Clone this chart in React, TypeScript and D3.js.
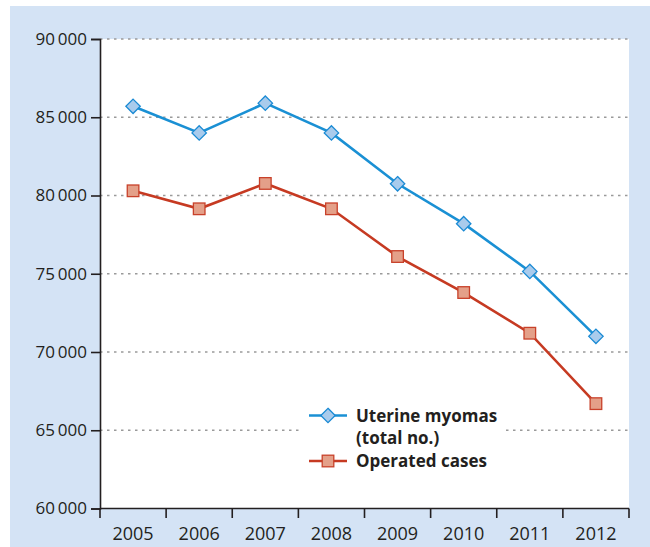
import { useRef, useEffect } from 'react'
import * as d3 from 'd3'

const years = ['2005', '2006', '2007', '2008', '2009', '2010', '2011', '2012']
const myomas = [85700, 84000, 85900, 84000, 80750, 78200, 75150, 71000]
const operated = [80300, 79150, 80770, 79150, 76100, 73800, 71200, 66700]
const yTicks = [60000, 65000, 70000, 75000, 80000, 85000, 90000]

function App() {
  const ref = useRef<SVGSVGElement>(null)

  useEffect(() => {
    const svg = d3.select(ref.current)
    svg.selectAll('*').remove()
    const left = 100, right = 629, top = 39, bottom = 508.5
    const font = '"Open Sans", "DejaVu Sans", sans-serif'
    const ink = '#231f20'

    // light blue panel + white plot area
    svg.append('rect').attr('x', 10).attr('y', 6).attr('width', 640).attr('height', 541).attr('fill', '#d4e3f5')
    svg.append('rect').attr('x', left).attr('y', top).attr('width', right - left).attr('height', bottom - top).attr('fill', '#fff')

    const x = d3.scaleBand().domain(years).range([left, right])
    const y = d3.scaleLinear().domain([60000, 90000]).range([bottom, top])
    const cx = (d: string) => (x(d) as number) + x.bandwidth() / 2
    const fmt = (v: number) => d3.format(',')(v).replace(',', '\u2009')

    // dotted grid
    svg.append('g').selectAll('line')
      .data(yTicks.filter(t => t > 60000))
      .enter().append('line')
      .attr('x1', left).attr('x2', right)
      .attr('y1', d => y(d)).attr('y2', d => y(d))
      .attr('stroke', '#9a9a9a').attr('stroke-width', 1.3)
      .attr('stroke-dasharray', '2.5,4.5')

    // legend backing
    svg.append('rect').attr('x', 301).attr('y', 402).attr('width', 205).attr('height', 74).attr('fill', '#fff')

    // y axis
    const yAxis = svg.append('g').attr('transform', `translate(${left},0)`)
      .call(d3.axisLeft(y).tickValues(yTicks).tickSize(9).tickPadding(4).tickFormat(d => fmt(+d)))
    yAxis.select('.domain').attr('stroke', ink).attr('stroke-width', 1.6)
    yAxis.selectAll('.tick line').attr('stroke', ink).attr('stroke-width', 1.6)
    yAxis.selectAll('.tick text').attr('fill', ink).style('font', `17px ${font}`)

    // x axis: ticks at band boundaries, labels at centres
    svg.append('line').attr('x1', left).attr('x2', right).attr('y1', bottom).attr('y2', bottom)
      .attr('stroke', ink).attr('stroke-width', 1.6)
    const bounds = years.map(d => x(d) as number).concat([x.range()[1]])
    svg.append('g').selectAll('line').data(bounds).enter().append('line')
      .attr('x1', d => d).attr('x2', d => d).attr('y1', bottom).attr('y2', bottom + 9.5)
      .attr('stroke', ink).attr('stroke-width', 1.6)
    svg.append('g').selectAll('text').data(years).enter().append('text')
      .attr('x', d => cx(d)).attr('y', 539.5)
      .attr('text-anchor', 'middle').attr('fill', ink)
      .style('font', `18px ${font}`)
      .text(d => d)

    const line = d3.line<number>().x((_, i) => cx(years[i])).y(d => y(d))

    const diamond = (s: number) => `M0,${-s}L${s},0L0,${s}L${-s},0Z`

    // operated cases
    svg.append('path').datum(operated).attr('d', line)
      .attr('fill', 'none').attr('stroke', '#c63a22').attr('stroke-width', 2.6)
    svg.append('g').selectAll('rect').data(operated).enter().append('rect')
      .attr('x', (_, i) => cx(years[i]) - 5.8).attr('y', d => y(d) - 5.8)
      .attr('width', 11.6).attr('height', 11.6)
      .attr('fill', '#e4a089').attr('stroke', '#c8412a').attr('stroke-width', 1.3)

    // uterine myomas
    svg.append('path').datum(myomas).attr('d', line)
      .attr('fill', 'none').attr('stroke', '#1a90d4').attr('stroke-width', 2.6)
    svg.append('g').selectAll('path').data(myomas).enter().append('path')
      .attr('d', diamond(7.2))
      .attr('transform', (d, i) => `translate(${cx(years[i])},${y(d)})`)
      .attr('fill', '#a9cbec').attr('stroke', '#1a8ad4').attr('stroke-width', 1.3)

    // legend
    const lg = svg.append('g')
    lg.append('line').attr('x1', 309).attr('x2', 347).attr('y1', 415.5).attr('y2', 415.5)
      .attr('stroke', '#1a90d4').attr('stroke-width', 2.6)
    lg.append('path').attr('d', diamond(7.2)).attr('transform', 'translate(328,415.5)')
      .attr('fill', '#a9cbec').attr('stroke', '#1a8ad4').attr('stroke-width', 1.3)
    lg.append('line').attr('x1', 309).attr('x2', 347).attr('y1', 461).attr('y2', 461)
      .attr('stroke', '#c63a22').attr('stroke-width', 2.6)
    lg.append('rect').attr('x', 322.2).attr('y', 455.2).attr('width', 11.6).attr('height', 11.6)
      .attr('fill', '#e4a089').attr('stroke', '#c8412a').attr('stroke-width', 1.3)
    const labels: [string, number][] = [['Uterine myomas', 422], ['(total no.)', 443.5], ['Operated cases', 466.5]]
    lg.selectAll('text').data(labels).enter().append('text')
      .attr('x', 356).attr('y', d => d[1]).attr('fill', ink)
      .style('font', `bold 17px ${font}`)
      .text(d => d[0])
  }, [])

  return (
    <svg ref={ref} width={650} height={547} style={{ position: 'absolute', left: 0, top: 0, display: 'block' }} />
  )
}

export default App
